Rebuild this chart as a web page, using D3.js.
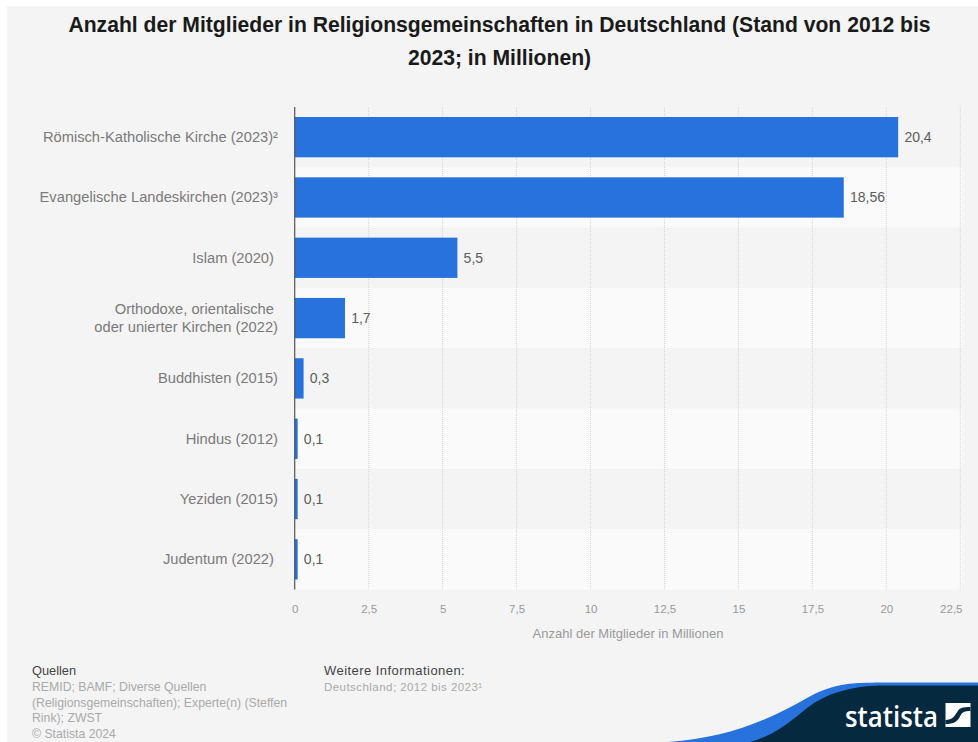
<!DOCTYPE html>
<html lang="de">
<head>
<meta charset="utf-8">
<title>Religionsgemeinschaften in Deutschland</title>
<script src="https://cdn.jsdelivr.net/npm/d3@7/dist/d3.min.js"></script>
<style>
  html, body { margin: 0; padding: 0; background: #fff; }
  svg { display: block; font-family: "Liberation Sans", Arial, sans-serif; }
</style>
</head>
<body>
<svg id="chart" width="978" height="742"></svg>
<script>
// Mitgliederzahlen in Millionen
const categories = [
  ["Römisch-Katholische Kirche (2023)²"],
  ["Evangelische Landeskirchen (2023)³"],
  ["Islam (2020) "],
  ["Orthodoxe, orientalische ", "oder unierter Kirchen (2022)"],
  ["Buddhisten (2015)"],
  ["Hindus (2012)"],
  ["Yeziden (2015)"],
  ["Judentum (2022) "]
];
const values = [20.4, 18.56, 5.5, 1.7, 0.3, 0.1, 0.1, 0.1];
const valueLabels = ["20,4", "18,56", "5,5", "1,7", "0,3", "0,1", "0,1", "0,1"];
const tickValues = [0, 2.5, 5, 7.5, 10, 12.5, 15, 17.5, 20, 22.5];
const titleLines = [
  "Anzahl der Mitglieder in Religionsgemeinschaften in Deutschland (Stand von 2012 bis",
  "2023; in Millionen)"
];
const sourceLines = [
  "REMID; BAMF; Diverse Quellen",
  "(Religionsgemeinschaften); Experte(n) (Steffen",
  "Rink); ZWST",
  "© Statista 2024"
];

const svg = d3.select("#chart");
const plot = { left: 294.7, right: 962, top: 107, bottom: 589.5 };

const x = d3.scaleLinear().domain([0, 22.5]).range([plot.left, 960.3]);
const y = d3.scaleBand()
  .domain(d3.range(categories.length))
  .range([plot.top, plot.bottom])
  .paddingInner(0).paddingOuter(0);

const BLUE = "#2772dc";
const NAVY = "#05293f";

// Seitenhintergrund
svg.append("rect").attr("x", 7).attr("y", 6).attr("width", 971).attr("height", 736).attr("fill", "#f4f4f4");

// Überschrift
svg.append("g").selectAll("text").data(titleLines).join("text")
  .attr("x", 499.5).attr("y", (d, i) => 32 + i * 33)
  .attr("text-anchor", "middle")
  .attr("font-size", 21.15).attr("font-weight", 700).attr("fill", "#1a1a1a")
  .text(d => d);

// Zeilenbänder im Wechsel
svg.append("g").selectAll("rect").data(d3.range(categories.length)).join("rect")
  .attr("x", plot.left).attr("y", d => y(d))
  .attr("width", plot.right - plot.left).attr("height", y.step())
  .attr("fill", d => d % 2 ? "#fafafa" : "#f4f4f4");

// Vertikale Gitterlinien
svg.append("g").selectAll("line").data(tickValues.slice(1)).join("line")
  .attr("x1", d => x(d)).attr("x2", d => x(d))
  .attr("y1", plot.top).attr("y2", plot.bottom)
  .attr("stroke", "#d4d4d4").attr("stroke-width", 1).attr("stroke-dasharray", "1,1");

// Balken
const bandPad = 10;
svg.append("g").selectAll("rect").data(values).join("rect")
  .attr("x", x(0)).attr("y", (d, i) => y(i) + bandPad)
  .attr("width", d => x(d) - x(0)).attr("height", y.step() - 2 * bandPad)
  .attr("fill", BLUE);

// Y-Achsenlinie
svg.append("line")
  .attr("x1", plot.left).attr("x2", plot.left)
  .attr("y1", plot.top).attr("y2", plot.bottom)
  .attr("stroke", "#555").attr("stroke-width", 1.2);

// Wertbeschriftungen
svg.append("g").selectAll("text").data(values).join("text")
  .attr("x", d => x(d) + 6.2)
  .attr("y", (d, i) => y(i) + y.bandwidth() / 2 + 5)
  .attr("font-size", 14).attr("fill", "#5c5c5c")
  .text((d, i) => valueLabels[i]);

// Kategorienbeschriftungen, rechtsbündig an der Achse
const catGroup = svg.append("g").selectAll("text").data(categories).join("text")
  .attr("text-anchor", "end").attr("font-size", 14.7).attr("fill", "#7a7a7a")
  .style("white-space", "pre");
catGroup.each(function (lines, i) {
  const cy = y(i) + y.bandwidth() / 2;
  d3.select(this).selectAll("tspan").data(lines).join("tspan")
    .attr("x", 278)
    .attr("y", (d, j) => cy + 5 + (j - (lines.length - 1) / 2) * 18)
    .text(d => d);
});

// X-Achse über d3.axisBottom; die letzte Marke endet bündig am Plotrand
const axis = d3.axisBottom(x).tickValues(tickValues).tickSize(0).tickPadding(0)
  .tickFormat(d => String(d).replace(".", ","));
const axisG = svg.append("g").attr("transform", `translate(0,${plot.bottom})`).call(axis);
axisG.select(".domain").remove();
axisG.selectAll("text")
  .attr("y", 23).attr("dy", 0)
  .attr("font-family", "\"Liberation Sans\", Arial, sans-serif")
  .attr("font-size", 11.5).attr("fill", "#999")
  .attr("text-anchor", d => d === 22.5 ? "end" : "middle")
  .attr("x", d => d === 22.5 ? 1.7 : 0);

svg.append("text")
  .attr("x", 628).attr("y", 638).attr("text-anchor", "middle")
  .attr("font-size", 13).attr("fill", "#999")
  .text("Anzahl der Mitglieder in Millionen");

// Quellen und weitere Informationen
svg.append("text").attr("x", 32).attr("y", 674.5)
  .attr("font-size", 12.8).attr("fill", "#444").text("Quellen");
svg.append("g").selectAll("text").data(sourceLines).join("text")
  .attr("x", 32).attr("y", (d, i) => 691 + i * 15.6)
  .attr("font-size", 12.25).attr("fill", "#aaa").text(d => d);
svg.append("text").attr("x", 324).attr("y", 674.5)
  .attr("font-size", 13).attr("letter-spacing", 0.45).attr("fill", "#444").text("Weitere Informationen:");
svg.append("text").attr("x", 324).attr("y", 691)
  .attr("font-size", 11.5).attr("letter-spacing", 0.45).attr("fill", "#aaa").text("Deutschland; 2012 bis 2023¹");

// Markenband unten rechts
svg.append("path").attr("fill", BLUE)
  .attr("d", "M668,742 C725,738 765,722 807,698 C835,682 855,683 880,682.5 L978,682.5 L978,742 Z");
svg.append("path").attr("fill", NAVY)
  .attr("d", "M750,742 C775,735 790,722 807,708 C825,694 850,686 880,685.5 L978,685.5 L978,742 Z");

svg.append("text").attr("x", 845).attr("y", 726.5)
  .attr("font-family", "\"Open Sans\", \"Liberation Sans\", sans-serif")
  .attr("font-size", 29).attr("font-weight", 600).attr("fill", "#fff")
  .attr("textLength", 93).attr("lengthAdjust", "spacingAndGlyphs")
  .text("statista");

// Bildmarke neben dem Schriftzug
const mark = svg.append("g").attr("transform", "translate(945.5,703)");
mark.append("rect").attr("width", 25).attr("height", 24).attr("fill", "#fff");
mark.append("path").attr("fill", NAVY)
  .attr("d", "M0,17 C7,17 9,13 12,8.5 C14,5 17,4 25,4 L25,8 C19,8 17,9 15,12.5 C12,19 8,21 0,21 Z");
</script>
</body>
</html>
